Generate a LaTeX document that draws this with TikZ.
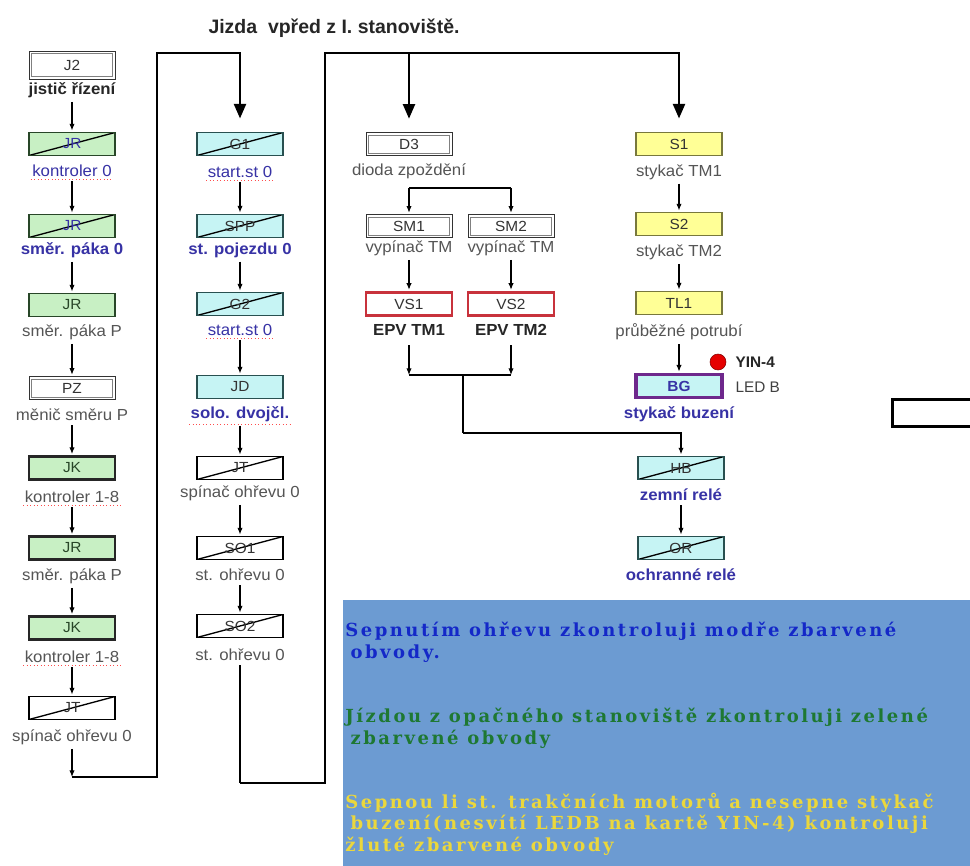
\documentclass[tikz,border=0pt]{standalone}
\usepackage{fontspec}
\setmainfont{Liberation Sans}
\newfontfamily\lblfont[FakeStretch=1.05]{Liberation Sans}
\newfontfamily\notefont[LetterSpace=14]{DejaVu Serif}
\usetikzlibrary{arrows.meta}
\definecolor{gfill}{RGB}{200,240,196}
\definecolor{gdraw}{RGB}{40,70,40}
\definecolor{cfill}{RGB}{198,244,244}
\definecolor{cdraw}{RGB}{40,80,80}
\definecolor{yfill}{RGB}{255,255,150}
\definecolor{ydraw}{RGB}{120,120,60}
\definecolor{rdraw}{RGB}{200,50,60}
\definecolor{pdraw}{RGB}{110,40,140}
\definecolor{lgray}{RGB}{85,85,85}
\definecolor{lblue}{RGB}{55,50,165}
\definecolor{notebg}{RGB}{108,155,210}
\definecolor{nblue}{RGB}{20,40,200}
\definecolor{ngreen}{RGB}{30,120,50}
\definecolor{nyellow}{RGB}{235,215,60}
\begin{document}
\begin{tikzpicture}[x=0.75pt,y=-0.75pt,
  box/.style={minimum width=64.5pt, minimum height=17.25pt, inner sep=0pt,
    font=\lblfont\fontsize{11}{12}\selectfont},
  wbox/.style={box, draw=black!80, line width=0.7pt, fill=white, text=black!80,
    path picture={\draw[black!50, line width=0.5pt] ([shift={(1.8pt,1.8pt)}]path picture bounding box.south west) rectangle ([shift={(-1.8pt,-1.8pt)}]path picture bounding box.north east);}},
  gbox/.style={box, fill=gfill, draw=gdraw, line width=1pt, text=gdraw},
  gboxk/.style={gbox, line width=1.7pt, draw=black!85},
  cbox/.style={box, fill=cfill, draw=cdraw, line width=1pt, text=black!80},
  ybox/.style={box, fill=yfill, draw=ydraw, line width=1pt, text=black!80},
  rbox/.style={box, fill=white, draw=rdraw, line width=2pt, text=black!80},
  pbox/.style={box, fill=cfill, draw=pdraw, line width=2.3pt, text=lblue, font=\lblfont\bfseries\fontsize{11}{12}\selectfont},
  xbox/.style={box, fill=white, draw=black, line width=1pt, text=black!80},
  crossed/.style={path picture={\draw[line width=1pt,black] (path picture bounding box.south west) -- (path picture bounding box.north east);}},
  lbl/.style={font=\lblfont\fontsize{12}{13}\selectfont, text=lgray, inner sep=1pt},
  lblb/.style={font=\lblfont\bfseries\fontsize{12}{13}\selectfont, text=lblue, inner sep=1pt},
  lblk/.style={font=\lblfont\bfseries\fontsize{12}{13}\selectfont, text=black!85, inner sep=1pt},
  squig/.style={draw=red!70, dotted, line width=0.6pt},
  sarr/.style={-{Latex[length=5pt,width=4pt]}, line width=0.8pt, shorten <=2pt, shorten >=1pt},
  bigline/.style={line width=1.8pt, line join=miter},
  bigarr/.style={bigline, -{Triangle[length=11pt,width=9pt]}, shorten >=10pt},
  note/.style={anchor=north west, align=left, inner sep=0pt, font=\notefont\bfseries\fontsize{13.5}{16}\selectfont},
]
\useasboundingbox (0,0) rectangle (970,866);
\fill[white] (0,0) rectangle (970,866);

% title
\node[font=\bfseries\fontsize{14.6}{16}\selectfont, text=black!85] (title) at (334,28) {Jizda\ \ vpřed z I. stanoviště.};

% ---------- column 1 ----------
\node[wbox, minimum height=21pt] (J2) at (72,65) {J2};
\node[lblk] (J2l) at (72,90) {jistič řízení};
\node[gbox, crossed, text=lblue] (JR1) at (72,144) {JR};
\node[lblb, font=\lblfont\fontsize{12}{13}\selectfont] (JR1l) at (72,171) {kontroler 0};
\node[gbox, crossed, text=lblue] (JR2) at (72,226) {JR};
\node[lblb] (JR2l) at (72,250) {směr. páka 0};
\node[gbox] (JR3) at (72,305) {JR};
\node[lbl] (JR3l) at (72,332) {směr. páka P};
\node[wbox] (PZ) at (72,388) {PZ};
\node[lbl] (PZl) at (72,415) {měnič směru P};
\node[gboxk] (JK1) at (72,468) {JK};
\node[lbl] (JK1l) at (72,497) {kontroler 1-8};
\node[gboxk] (JR4) at (72,548) {JR};
\node[lbl] (JR4l) at (72,576) {směr. páka P};
\node[gboxk] (JK2) at (72,628) {JK};
\node[lbl] (JK2l) at (72,657) {kontroler 1-8};
\node[xbox, crossed] (JTa) at (72,708) {JT};
\node[lbl] (JTal) at (72,737) {spínač ohřevu 0};
\coordinate (c1b) at (72,777);
\coordinate (k1) at (157,53);

% ---------- column 2 ----------
\node[cbox, crossed] (G1) at (240,144) {G1};
\node[lblb, font=\lblfont\fontsize{12}{13}\selectfont] (G1l) at (240,172) {start.st 0};
\node[cbox, crossed] (SPP) at (240,226) {SPP};
\node[lblb] (SPPl) at (240,250) {st. pojezdu 0};
\node[cbox, crossed] (G2) at (240,304) {G2};
\node[lblb, font=\lblfont\fontsize{12}{13}\selectfont] (G2l) at (240,330) {start.st 0};
\node[cbox] (JD) at (240,387) {JD};
\node[lblb] (JDl) at (240,414) {solo. dvojčl.};
\node[xbox, crossed] (JTb) at (240,468) {JT};
\node[lbl] (JTbl) at (240,493) {spínač ohřevu 0};
\node[xbox, crossed] (SO1) at (240,548) {SO1};
\node[lbl] (SO1l) at (240,575) {st. ohřevu 0};
\node[xbox, crossed] (SO2) at (240,626) {SO2};
\node[lbl] (SO2l) at (240,655) {st. ohřevu 0};
\coordinate (c2b) at (240,783);
\coordinate (k2) at (325,53);

% ---------- column 3 ----------
\node[wbox] (D3) at (409,144) {D3};
\node[lbl] (D3l) at (409,171) {dioda zpoždění};
\node[wbox] (SM1) at (409,226) {SM1};
\node[lbl] (SM1l) at (409,248) {vypínač TM};
\node[wbox] (SM2) at (511,226) {SM2};
\node[lbl] (SM2l) at (511,248) {vypínač TM};
\node[rbox] (VS1) at (409,304) {VS1};
\node[lblk] (VS1l) at (409,330) {EPV TM1};
\node[rbox] (VS2) at (511,304) {VS2};
\node[lblk] (VS2l) at (511,330) {EPV TM2};
\coordinate (br) at (409,188);
\coordinate (m1) at (409,375);
\coordinate (m2) at (511,375);
\coordinate (mm) at (463,375);
\coordinate (jn) at (463,433);

% ---------- column 4 ----------
\node[ybox] (S1) at (679,144) {S1};
\node[lbl] (S1l) at (679,172) {stykač TM1};
\node[ybox] (S2) at (679,224) {S2};
\node[lbl] (S2l) at (679,252) {stykač TM2};
\node[ybox] (TL1) at (679,303) {TL1};
\node[lbl] (TL1l) at (679,332) {průběžné potrubí};
\node[pbox] (BG) at (679,386) {BG};
\node[lblb] (BGl) at (679,414) {stykač buzení};
\node[cbox, crossed] (HB) at (681,468) {HB};
\node[lblb] (HBl) at (681,495) {zemní relé};
\node[cbox, crossed] (OR) at (681,548) {OR};
\node[lblb] (ORl) at (681,575) {ochranné relé};
\node[circle, fill=red!90!black, draw=red!50!black, minimum size=12pt, inner sep=0pt] (led) at (718,362) {};
\node[anchor=west, lblk, font=\bfseries\fontsize{11.5}{13}\selectfont] (yin) at (734,362) {YIN-4};
\node[anchor=west, lbl, font=\fontsize{11.5}{13}\selectfont, text=black!75] (ledb) at (734,387) {LED B};

% right edge box
\node[draw=black, line width=2.2pt, minimum width=75pt, minimum height=20pt, inner sep=0pt, anchor=north west] (rb) at (891,398) {};

% spell-check underlines
\foreach \n in {JR1l,JK1l,JK2l,G1l,G2l,JDl}{
  \draw[squig] ([yshift=-1pt]\n.south west) -- ([yshift=-1pt]\n.south east);
}

% ---------- connectors ----------
\draw[sarr] (J2l) -- (JR1);
\draw[sarr] (JR1l) -- (JR2);
\draw[sarr] (JR2l) -- (JR3);
\draw[sarr] (JR3l) -- (PZ);
\draw[sarr] (PZl) -- (JK1);
\draw[sarr] (JK1l) -- (JR4);
\draw[sarr] (JR4l) -- (JK2);
\draw[sarr] (JK2l) -- (JTa);
\draw[sarr, shorten >=0pt] (JTal) -- (c1b);
\draw[bigarr] (c1b) -| (k1) -| (G1.north);

\draw[sarr] (G1l) -- (SPP);
\draw[sarr] (SPPl) -- (G2);
\draw[sarr] (G2l) -- (JD);
\draw[sarr] (JDl) -- (JTb);
\draw[sarr] (JTbl) -- (SO1);
\draw[sarr] (SO1l) -- (SO2);
\draw[line width=0.9pt, shorten <=2pt] (SO2l) -- (c2b);
\draw[bigarr] (c2b) -| (k2) -| (S1.north);
\draw[bigarr] (D3.north |- k2) -- (D3.north);

\draw[line width=0.8pt] (br) -- (br -| SM2);
\draw[sarr, shorten <=0pt] (br) -- (SM1);
\draw[sarr, shorten <=0pt] (br -| SM2) -- (SM2);
\draw[sarr] (SM1l) -- (VS1);
\draw[sarr] (SM2l) -- (VS2);
\draw[sarr, shorten <=6pt, shorten >=0pt] (VS1l) -- (m1);
\draw[sarr, shorten <=6pt, shorten >=0pt] (VS2l) -- (m2);
\draw[line width=1pt] (m1) -- (m2);
\draw[line width=1pt] (mm) -- (jn);
\draw[sarr, line width=1pt, shorten <=0pt] (jn) -| (HB.north);

\draw[sarr] (S1l) -- (S2);
\draw[sarr] (S2l) -- (TL1);
\draw[sarr] (TL1l) -- (BG);
\draw[sarr] (HBl) -- (OR);

% ---------- note box ----------
\node[fill=notebg, anchor=north west, minimum width=470.25pt, minimum height=199.5pt, inner sep=0pt] (note) at (343,600) {};
\node[note, text=nblue] (n1) at (345,622)
  {Sepnutím ohřevu zkontroluji modře zbarvené\\\hspace*{4pt}obvody.};
\node[note, text=ngreen] (n2) at (345,708)
  {Jízdou z opačného stanoviště zkontroluji zelené\\\hspace*{4pt}zbarvené obvody};
\node[note, text=nyellow] (n3) at (345,793)
  {Sepnou li st. trakčních motorů a nesepne stykač\\\hspace*{4pt}buzení(nesvítí LEDB na kartě YIN-4) kontroluji\\žluté zbarvené obvody};
\end{tikzpicture}
\end{document}
